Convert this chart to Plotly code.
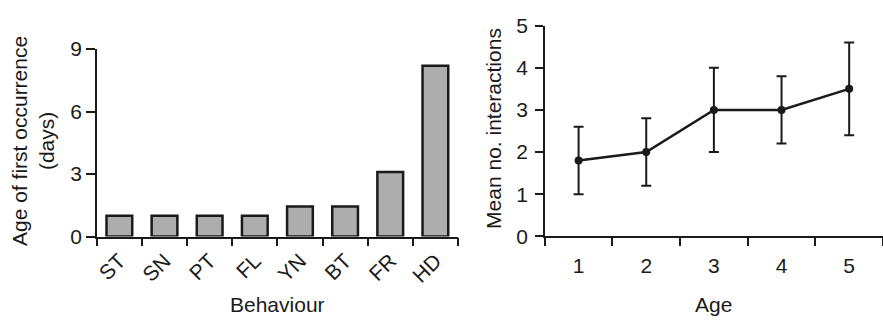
import plotly.graph_objects as go

# Left panel: age of first occurrence for each behaviour
behaviours = ["ST", "SN", "PT", "FL", "YN", "BT", "FR", "HD"]
first_age_days = [1.0, 1.0, 1.0, 1.0, 1.45, 1.45, 3.1, 8.2]
left_ticks = [0, 3, 6, 9]

# Right panel: mean number of interactions by age
ages = ["1", "2", "3", "4", "5"]
mean_interactions = [1.8, 2.0, 3.0, 3.0, 3.5]
interaction_err = [0.8, 0.8, 1.0, 0.8, 1.1]
right_ticks = [0, 1, 2, 3, 4, 5]

FONT = "Arial, Liberation Sans, Helvetica, sans-serif"
INK = "#1a1a1a"
FS = 21

fig = go.Figure()

fig.add_trace(go.Bar(
    x=behaviours, y=first_age_days,
    marker=dict(color="#adadad", line=dict(color=INK, width=2.5)),
    width=0.57,
    xaxis="x", yaxis="y",
    showlegend=False,
))

fig.add_trace(go.Scatter(
    x=ages, y=mean_interactions,
    mode="lines+markers",
    line=dict(color=INK, width=2.5),
    marker=dict(color=INK, size=8),
    error_y=dict(type="data", array=interaction_err, symmetric=True,
                 color=INK, thickness=2, width=5),
    xaxis="x2", yaxis="y2",
    showlegend=False,
))

axis_common = dict(
    showline=True, linecolor=INK, linewidth=1.5,
    ticks="outside", tickcolor=INK, tickwidth=1.5,
    showgrid=False, zeroline=False,
    tickfont=dict(family=FONT, size=FS, color=INK),
)

fig.update_layout(
    width=883, height=320,
    margin=dict(l=0, r=0, t=0, b=0),
    paper_bgcolor="white", plot_bgcolor="white",
    font=dict(family=FONT, size=FS, color=INK),
    xaxis=dict(
        **axis_common,
        domain=[95 / 883, 457 / 883],
        type="category", tickson="boundaries", ticklen=8,
        range=[-0.5, len(behaviours) - 0.5],
        tickangle=-45, ticklabelstandoff=2,
        anchor="y",
    ),
    yaxis=dict(
        **axis_common,
        domain=[1 - 242 / 320, 1 - 40 / 320],
        range=[0, 9], tickvals=left_ticks, ticklen=9,
        anchor="x",
    ),
    xaxis2=dict(
        **axis_common,
        domain=[544 / 883, 1.0],
        type="category", tickson="boundaries", ticklen=8,
        range=[-0.5, len(ages) - 0.5],
        ticklabelstandoff=10,
        anchor="y2",
    ),
    yaxis2=dict(
        **axis_common,
        domain=[1 - 241.7 / 320, 1 - 14.7 / 320],
        range=[0, 5], tickvals=right_ticks, ticklen=8,
        ticklabelstandoff=3,
        anchor="x2",
    ),
    annotations=[
        dict(text="Behaviour", x=276 / 883, y=1 - 315 / 320, xref="paper", yref="paper",
             showarrow=False, xanchor="center", yanchor="middle",
             font=dict(family=FONT, size=FS, color=INK)),
        dict(text="Age", x=713 / 883, y=1 - 315 / 320, xref="paper", yref="paper",
             showarrow=False, xanchor="center", yanchor="middle",
             font=dict(family=FONT, size=FS, color=INK)),
        dict(text="Age of first occurrence<br>(days)", x=31 / 883, y=1 - 139 / 320,
             xref="paper", yref="paper", textangle=-90,
             showarrow=False, xanchor="center", yanchor="middle",
             font=dict(family=FONT, size=FS, color=INK)),
        dict(text="Mean no. interactions", x=492 / 883, y=1 - 125 / 320,
             xref="paper", yref="paper", textangle=-90,
             showarrow=False, xanchor="center", yanchor="middle",
             font=dict(family=FONT, size=FS, color=INK)),
    ],
)

fig.write_html("out.html")
